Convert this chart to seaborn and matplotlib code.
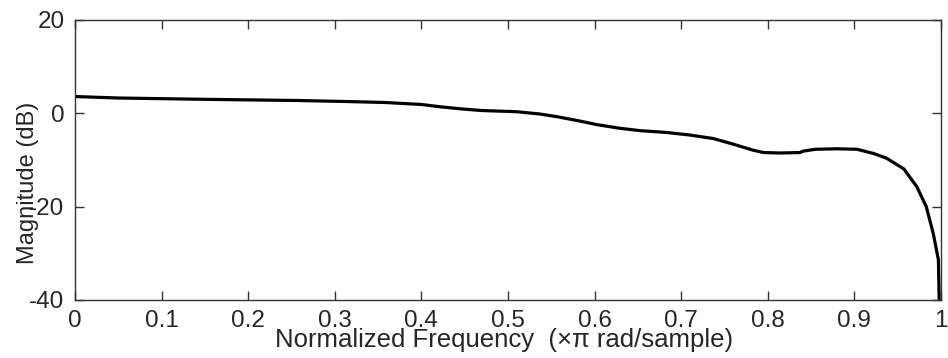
import matplotlib
matplotlib.use("Agg")
import matplotlib.pyplot as plt
import seaborn as sns
import pandas as pd

# Data (normalized frequency, magnitude in dB)
freq = [0.0, 0.051, 0.15, 0.256, 0.31, 0.358, 0.40, 0.422, 0.446, 0.47, 0.51,
        0.537, 0.556, 0.583, 0.602, 0.629, 0.652, 0.683, 0.710, 0.737, 0.760,
        0.783, 0.795, 0.814, 0.837, 0.841, 0.855, 0.880, 0.903, 0.922, 0.937,
        0.957, 0.972, 0.983, 0.991, 0.997, 1.0]
mag_db = [3.6, 3.28, 3.0, 2.75, 2.55, 2.32, 1.9, 1.4, 0.95, 0.6, 0.35,
          -0.15, -0.7, -1.65, -2.4, -3.2, -3.7, -4.1, -4.65, -5.4, -6.6,
          -7.9, -8.4, -8.5, -8.4, -8.1, -7.7, -7.6, -7.7, -8.6, -9.6,
          -11.9, -15.7, -20.0, -25.7, -31.4, -60.0]
xticks = [0, 0.1, 0.2, 0.3, 0.4, 0.5, 0.6, 0.7, 0.8, 0.9, 1.0]
xtick_labels = ["0", "0.1", "0.2", "0.3", "0.4", "0.5", "0.6", "0.7", "0.8", "0.9", "1"]
yticks = [-40, -20, 0, 20]
ytick_labels = ["-40", "-20", "0", "20"]
xlabel = "Normalized Frequency  (\u00d7\u03c0 rad/sample)"
ylabel = "Magnitude (dB)"

df = pd.DataFrame({"freq": freq, "mag": mag_db})

sns.set_style("ticks")
plt.rcParams["font.family"] = ["Liberation Sans", "DejaVu Sans"]
FS_TICK = 17.5
FS_XLAB = 18.5
FS_YLAB = 17.0

fig = plt.figure(figsize=(9.48, 3.58), dpi=100)
ax = fig.add_axes([75 / 948, 1 - 300 / 358, 866 / 948, 280 / 358])

sns.lineplot(data=df, x="freq", y="mag", ax=ax, color="black", linewidth=2.3,
             sort=False, estimator=None)

ax.set_xlim(0, 1)
ax.set_ylim(-40, 20)
ax.set_xticks(xticks)
ax.set_xticklabels(xtick_labels, fontsize=FS_TICK)
ax.set_yticks(yticks)
ax.set_yticklabels(ytick_labels, fontsize=FS_TICK)
ax.tick_params(direction="in", length=6.5, width=1.0, color="#333333",
               top=True, right=True)
ax.tick_params(axis="x", pad=7.2)
ax.tick_params(axis="y", pad=7.5)
for s in ax.spines.values():
    s.set_visible(True)
    s.set_color("#333333")
    s.set_linewidth(1.0)

ax.set_xlabel(xlabel, fontsize=FS_XLAB)
ax.set_ylabel(ylabel, fontsize=FS_YLAB)
ax.xaxis.label.set_verticalalignment("baseline")
ax.xaxis.set_label_coords(0.495, -0.168)
ax.yaxis.label.set_verticalalignment("center")
ax.yaxis.set_label_coords(-0.054, 0.42)

fig.savefig("out.png", dpi=100, facecolor="white")
